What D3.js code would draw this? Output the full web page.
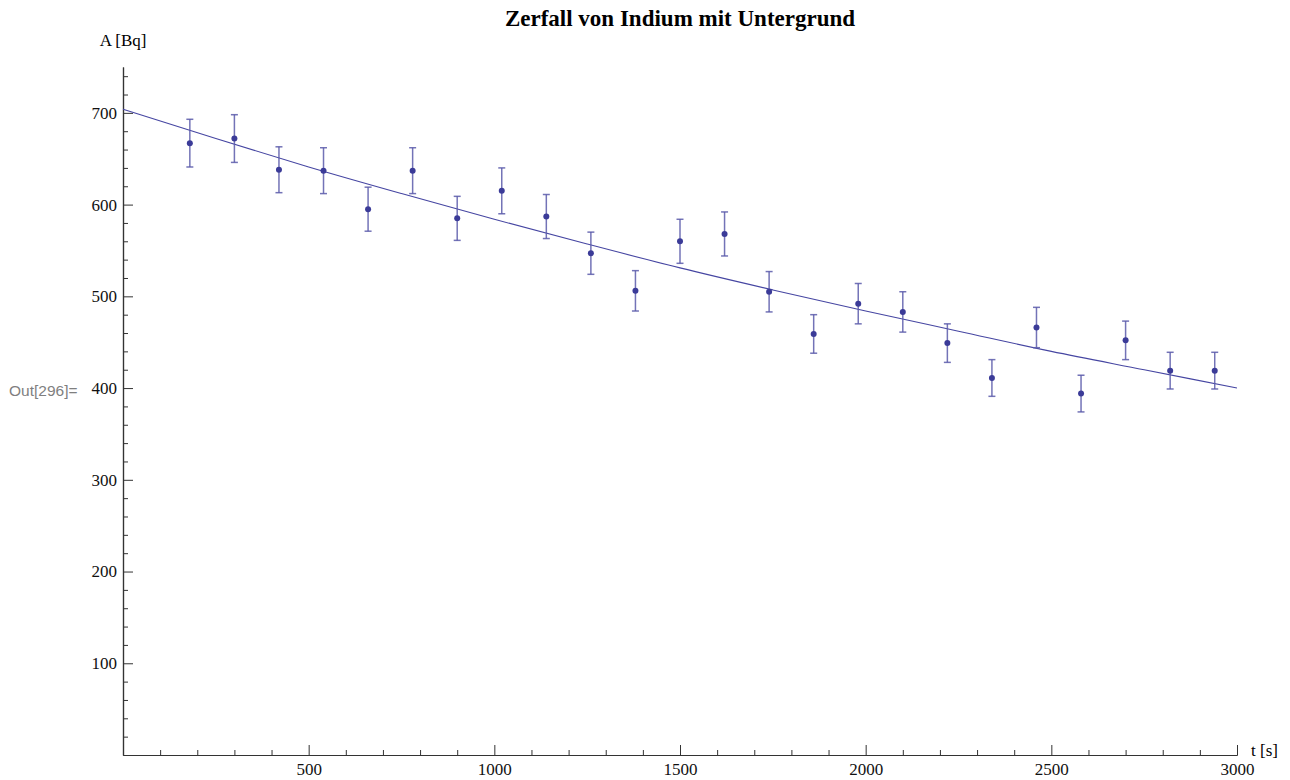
<!DOCTYPE html>
<html>
<head>
<meta charset="utf-8">
<script src="https://d3js.org/d3.v7.min.js"></script>
<style>
	body { margin: 0; background: #fff; }
	svg { display: block; }
	.axis text { font-family: 'Liberation Serif', 'Times New Roman', serif; font-size: 17px; fill: #111; }
</style>
</head>
<body>
<div id="vis"></div>
<script>

// measured points (t in s, A in Bq, error in Bq)
var times = [180, 300, 420, 540, 660, 780, 900, 1020, 1140, 1260, 1380, 1500, 1620, 1740, 1860, 1980, 2100, 2220, 2340, 2460, 2580, 2700, 2820, 2940];
var activity = [667, 672, 638, 637, 595, 637, 585, 615, 587, 547, 506, 560, 568, 505, 459, 492, 483, 449, 411, 466, 394, 452, 419, 419];
var errors = [26, 26, 25, 25, 24, 25, 24, 25, 24, 23, 22, 24, 24, 22, 21, 22, 22, 21, 20, 22, 20, 21, 20, 20];

// fit curve
var fitTimes = [0, 250, 500, 750, 1000, 1250, 1500, 1750, 2000, 2250, 2500, 2750, 3000];
var fitValues = [704, 672, 641, 612, 584, 557, 531, 507, 484, 462, 440, 420, 400];

var xMajor = [500, 1000, 1500, 2000, 2500, 3000];
var yMajor = [100, 200, 300, 400, 500, 600, 700];

var title = "Zerfall von Indium mit Untergrund";
var xLabel = "t [s]";
var yLabel = "A [Bq]";
var outLabel = "Out[296]=";

var w = 1290;
var h = 780;
var serif = "'Liberation Serif', 'Times New Roman', serif";
var blue = "#3b3b98";

var svg = d3.select("#vis").append("svg")
	.attr("width", w)
	.attr("height", h);

var x = d3.scaleLinear().domain([0, 3000]).range([123, 1237]);
var y = d3.scaleLinear().domain([0, 750]).range([755, 67]);

function drawAxes () {
	var xMinor = d3.range(100, 3000, 100).filter(function (d) { return d % 500 != 0 });
	var yMinor = d3.range(20, 760, 20).filter(function (d) { return d % 100 != 0 });

	// ticks point into the plot, minor and major each get their own group
	svg.append("g")
		.attr("class", "axis")
		.attr("transform", "translate(0," + y(0) + ")")
		.call(d3.axisBottom(x).tickValues(xMinor).tickSizeInner(-5).tickSizeOuter(0).tickFormat(""));
	svg.append("g")
		.attr("class", "axis")
		.attr("transform", "translate(0," + y(0) + ")")
		.call(d3.axisBottom(x).tickValues(xMajor).tickSizeInner(-10).tickSizeOuter(0).tickPadding(8).tickFormat(d3.format("d")));

	svg.append("g")
		.attr("class", "axis")
		.attr("transform", "translate(" + x(0) + ",0)")
		.call(d3.axisLeft(y).tickValues(yMinor).tickSizeInner(-5).tickSizeOuter(0).tickFormat(""));
	svg.append("g")
		.attr("class", "axis")
		.attr("transform", "translate(" + x(0) + ",0)")
		.call(d3.axisLeft(y).tickValues(yMajor).tickSizeInner(-10).tickSizeOuter(0).tickPadding(6).tickFormat(d3.format("d")));

	svg.selectAll(".axis")
		.attr("font-family", serif)
		.attr("font-size", 17);
	svg.selectAll(".domain").attr("stroke", "#333").attr("stroke-width", 1.2);
	svg.selectAll(".tick line").attr("stroke", "#333").attr("stroke-width", 1);
}

function drawData () {
	var line = d3.line()
		.x(function (d, i) { return x(fitTimes[i]) })
		.y(function (d) { return y(d) })
		.curve(d3.curveMonotoneX);

	svg.append("path")
		.datum(fitValues)
		.attr("d", line)
		.attr("fill", "none")
		.attr("stroke", "#4646a2")
		.attr("stroke-width", 1.1);

	var pts = times.map(function (t, i) {
		return {t: t, a: activity[i], e: errors[i]};
	});

	var bars = svg.append("g")
		.attr("stroke", "#5a5aaa")
		.attr("stroke-opacity", 0.85)
		.attr("stroke-width", 1.5);

	bars.selectAll(".err")
		.data(pts)
		.enter()
		.append("line")
		.attr("x1", function (d) { return x(d.t) })
		.attr("x2", function (d) { return x(d.t) })
		.attr("y1", function (d) { return y(d.a + d.e) })
		.attr("y2", function (d) { return y(d.a - d.e) });

	[1, -1].forEach(function (s) {
		bars.selectAll(".cap" + s)
			.data(pts)
			.enter()
			.append("line")
			.attr("x1", function (d) { return x(d.t) - 3.5 })
			.attr("x2", function (d) { return x(d.t) + 3.5 })
			.attr("y1", function (d) { return y(d.a + s * d.e) })
			.attr("y2", function (d) { return y(d.a + s * d.e) });
	});

	svg.selectAll(".dot")
		.data(pts)
		.enter()
		.append("circle")
		.attr("cx", function (d) { return x(d.t) })
		.attr("cy", function (d) { return y(d.a) })
		.attr("r", 3)
		.attr("fill", blue);
}

function drawText () {
	svg.append("text")
		.attr("x", (x(0) + x(3000)) / 2)
		.attr("y", 26)
		.attr("text-anchor", "middle")
		.attr("font-family", serif)
		.attr("font-weight", "bold")
		.attr("font-size", 23)
		.text(title);

	svg.append("text")
		.attr("x", x(0))
		.attr("y", 46)
		.attr("text-anchor", "middle")
		.attr("font-family", serif)
		.attr("font-size", 17)
		.text(yLabel);

	svg.append("text")
		.attr("x", x(3000) + 14)
		.attr("y", y(0) + 1)
		.attr("font-family", serif)
		.attr("font-size", 17)
		.text(xLabel);

	svg.append("text")
		.attr("x", 9)
		.attr("y", 396)
		.attr("font-family", "'Liberation Sans', Arial, sans-serif")
		.attr("font-size", 15.5)
		.attr("fill", "#7f7f7f")
		.text(outLabel);
}

drawAxes();
drawData();
drawText();

</script>
</body>
</html>
